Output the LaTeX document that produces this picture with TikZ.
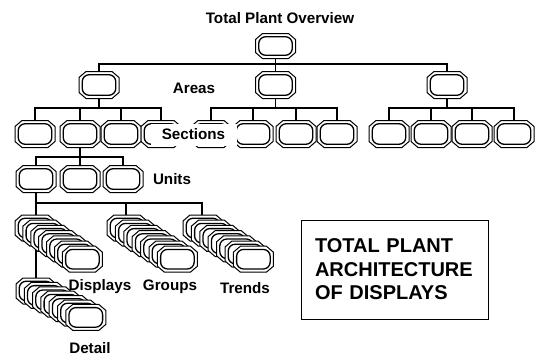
\documentclass[tikz,border=0pt]{standalone}
\usepackage{fontspec}
\setmainfont{Liberation Sans}
\makeatletter
\newdimen\scrxa \newdimen\scrya \newdimen\scrxb \newdimen\scryb
\pgfdeclareshape{screen}{
  \inheritsavedanchors[from=rectangle]
  \inheritanchorborder[from=rectangle]
  \inheritanchor[from=rectangle]{center}
  \inheritanchor[from=rectangle]{north}
  \inheritanchor[from=rectangle]{south}
  \inheritanchor[from=rectangle]{east}
  \inheritanchor[from=rectangle]{west}
  \inheritanchor[from=rectangle]{north east}
  \inheritanchor[from=rectangle]{north west}
  \inheritanchor[from=rectangle]{south east}
  \inheritanchor[from=rectangle]{south west}
  \backgroundpath{
    \southwest \scrxa=\pgf@x \scrya=\pgf@y
    \northeast \scrxb=\pgf@x \scryb=\pgf@y
    \pgfpathmoveto{\pgfqpoint{\dimexpr\scrxa+7pt\relax}{\scryb}}
    \pgfpathlineto{\pgfqpoint{\dimexpr\scrxb-7pt\relax}{\scryb}}
    \pgfpathlineto{\pgfqpoint{\scrxb}{\dimexpr\scryb-6pt\relax}}
    \pgfpathlineto{\pgfqpoint{\scrxb}{\dimexpr\scrya+6pt\relax}}
    \pgfpathlineto{\pgfqpoint{\dimexpr\scrxb-7pt\relax}{\scrya}}
    \pgfpathlineto{\pgfqpoint{\dimexpr\scrxa+7pt\relax}{\scrya}}
    \pgfpathlineto{\pgfqpoint{\scrxa}{\dimexpr\scrya+6pt\relax}}
    \pgfpathlineto{\pgfqpoint{\scrxa}{\dimexpr\scryb-6pt\relax}}
    \pgfpathclose
  }
  \foregroundpath{
    \southwest \scrxa=\pgf@x \scrya=\pgf@y
    \northeast \scrxb=\pgf@x \scryb=\pgf@y
    \begin{pgfscope}
      \pgfsetlinewidth{1.3pt}
      \pgfsetcornersarced{\pgfpoint{7pt}{7pt}}
      \pgfpathrectanglecorners{\pgfqpoint{\dimexpr\scrxa+3.2pt\relax}{\dimexpr\scrya+3.2pt\relax}}
                              {\pgfqpoint{\dimexpr\scrxb-3.2pt\relax}{\dimexpr\scryb-3.2pt\relax}}
      \pgfusepath{stroke}
    \end{pgfscope}
  }
}
\makeatother
\begin{document}
\begin{tikzpicture}[x=1pt,y=-1pt,
  scr/.style={shape=screen, draw, line width=1pt, fill=white,
    minimum width=40pt, minimum height=27pt, inner sep=0pt, outer sep=0pt},
  stk/.style={scr, minimum height=26pt},
  lbl/.style={font=\bfseries\fontsize{15.2}{18}\selectfont, inner sep=1pt},
  conn/.style={line width=1.2pt}]
\useasboundingbox (0,0) rectangle (535,356);

% helper bus levels
\coordinate (busA) at (0,64);
\coordinate (busS) at (0,108);
\coordinate (busU) at (0,157);
\coordinate (busD) at (0,203);

% title
\node[lbl] (title) at (280,18) {Total Plant Overview};

% top and areas
\node[scr, minimum height=25pt] (top) at (275.5,46) {};
\node[scr] (a1) at (99,85) {};
\node[scr] (a2) at (275.5,85) {};
\node[scr] (a3) at (447,85) {};
\draw[conn] (top.south) -- (top.south |- busA);
\draw[conn] (a1.north) |- (a3.north |- busA) -- (a3.north);
\draw[conn] (a2.north) -- (a2.north |- busA);
\node[lbl] (areas) at (194,88) {Areas};

% sections
\foreach \n/\x in {11/35,12/80,13/121,14/161,21/211,22/253,23/296,24/337,31/389,32/431,33/472,34/514}
  \node[scr] (s\n) at (\x,134) {};
\draw[conn] (a1.south) -- (a1.south |- busS);
\draw[conn] (a2.south) -- (a2.south |- busS);
\draw[conn] (a3.south) -- (a3.south |- busS);
\draw[conn] (s11.north) |- (s14.north |- busS) -- (s14.north);
\draw[conn] (s21.north) |- (s24.north |- busS) -- (s24.north);
\draw[conn] (s31.north) |- (s34.north |- busS) -- (s34.north);
\foreach \n in {12,13,22,23,32,33}
  \draw[conn] (s\n.north) -- (s\n.north |- busS);
\node[lbl, fill=white, minimum width=86pt, minimum height=22pt] (sections) at (193.5,134.5) {Sections};

% units
\node[scr] (u1) at (36,179) {};
\node[scr] (u2) at (80,179) {};
\node[scr] (u3) at (123,179) {};
\draw[conn] (s12.south) -- (s12.south |- busU);
\draw[conn] (u1.north) |- (u3.north |- busU) -- (u3.north);
\draw[conn] (u2.north) -- (u2.north |- busU);
\node[lbl] (units) at (172,179) {Units};

% stacks connectors
\coordinate (dettop) at (36,278);
\draw[conn] (u1.south) -- (dettop);
\draw[conn] (u1.south |- busD) -| (126,215);
\draw[conn] (u1.south |- busD) -| (202,215);

% display stacks
\foreach \i in {0,...,6} \node[stk] (d\i) at (35+7.9*\i,228+5.2*\i) {};
\foreach \i in {0,...,6} \node[stk] (g\i) at (127+8.4*\i,228+5.2*\i) {};
\foreach \i in {0,...,6} \node[stk] (t\i) at (203+8.4*\i,228+5.2*\i) {};
\foreach \i in {0,...,6} \node[stk] (e\i) at (36+8.3*\i,291+4.4*\i) {};

\node[lbl] (displays) at (100,287) {Displays};
\node[lbl] (groups) at (170,287) {Groups};
\node[lbl] (trends) at (245,288) {Trends};
\node[lbl] (detail) at (90,348) {Detail};

% title box
\node[draw, line width=1pt, minimum width=187pt, minimum height=99pt, text width=159pt,
  inner sep=0pt, align=left, font=\bfseries\fontsize{20}{23.5}\selectfont] (box) at (394.5,269.5)
  {TOTAL PLANT\\ARCHITECTURE\\OF DISPLAYS};
\end{tikzpicture}
\end{document}
